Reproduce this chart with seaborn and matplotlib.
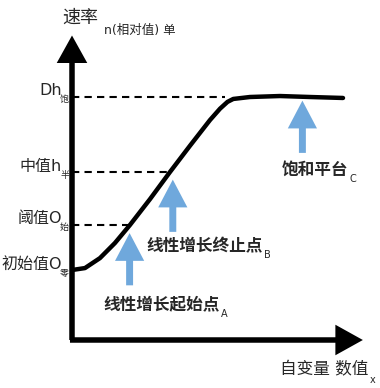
import matplotlib
matplotlib.use("Agg")
import matplotlib.pyplot as plt
import seaborn as sns
import pandas as pd

sns.set_style("white")
plt.rcParams['font.family'] = ['DejaVu Sans', 'Noto Sans CJK SC']

# ---- data ----
curve_x = [0.0, 0.45, 0.97, 1.49, 2.01, 2.71, 3.40, 4.10, 4.79, 5.14, 5.40, 5.60, 6.18, 7.22, 8.26, 9.41]
curve_y = [2.88, 2.96, 3.37, 3.99, 4.73, 5.80, 6.91, 8.00, 9.05, 9.52, 9.80, 9.92, 10.0, 10.04, 10.0, 9.96]

level_values = [10.0, 6.91, 4.73, 2.88]
level_labels = ["Dh", "中值h", "阈值O", "初始值O"]
level_subs = ["饱", "半", "始", "零"]
level_dash_x = [5.30, 3.40, 2.01, None]

arrow_x = [2.0, 3.5, 8.0]
arrow_tip = [4.4, 6.6, 9.85]
arrow_tail = [2.25, 4.45, 7.7]
arrow_labels = ["线性增长起始点", "线性增长终止点", "饱和平台"]
arrow_subs = ["A", "B", "C"]
arrow_label_pos = [(1.1, 1.45), (2.6, 3.85), (7.3, 7.0)]

y_title = "速率"
y_title_small = "n(相对值) 单"
x_title = "自变量 数值"
x_title_sub = "x"

blue = "#6fa8dc"

fig = plt.figure(figsize=(3.8, 3.88), dpi=100)
W, H = 380, 388
ax = fig.add_axes([72 / W, 48 / H, (360 - 72) / W, (340 - 40) / H])
ax.set_xlim(0, 10)
ax.set_ylim(0, 300 / 24.3)
for s in ax.spines.values():
    s.set_visible(False)
ax.set_xticks([])
ax.set_yticks([])
ax.patch.set_alpha(0)

# axes arrows
ax.annotate("", xy=(0, 1.015), xytext=(0, 0), xycoords="axes fraction",
            arrowprops=dict(arrowstyle="simple,head_length=0.9,head_width=1.0,tail_width=0.18",
                            mutation_scale=22, color="black", lw=0, shrinkA=0, shrinkB=0),
            annotation_clip=False)
ax.annotate("", xy=(1.01, 0), xytext=(-0.007, 0), xycoords="axes fraction",
            arrowprops=dict(arrowstyle="simple,head_length=0.9,head_width=1.0,tail_width=0.18",
                            mutation_scale=22, color="black", lw=0, shrinkA=0, shrinkB=0),
            annotation_clip=False)

# curve
df = pd.DataFrame({"x": curve_x, "y": curve_y})
sns.lineplot(data=df, x="x", y="y", ax=ax, color="black", lw=3.2, sort=False)
ax.set_xlabel("")
ax.set_ylabel("")

# dashed levels and labels
for v, lab, sub, dx in zip(level_values, level_labels, level_subs, level_dash_x):
    if dx is not None:
        ax.plot([0, dx], [v, v], ls=(0, (3.5, 2.5)), color="black", lw=1.5)
    ax.text(-0.36, v + 0.25, lab, ha="right", va="center", fontsize=11.5, clip_on=False)
    ax.text(-0.1, v - 0.12, sub, ha="right", va="center", fontsize=6.5, clip_on=False)

# blue arrows and labels
for xa, tip, tail, lab, sub, (lx, ly) in zip(arrow_x, arrow_tip, arrow_tail,
                                              arrow_labels, arrow_subs, arrow_label_pos):
    ax.annotate("", xy=(xa, tip), xytext=(xa, tail),
                arrowprops=dict(arrowstyle="simple,head_length=1.0,head_width=1.05,tail_width=0.25",
                                mutation_scale=20, color=blue, lw=0, shrinkA=0, shrinkB=0))
    t = ax.text(lx, ly, lab, ha="left", va="center", fontsize=12, fontweight="bold")
    fig.canvas.draw()
    bb = t.get_window_extent()
    inv = ax.transData.inverted()
    xr, yb = inv.transform((bb.x1, bb.y0))
    ax.text(xr + 0.02, yb, sub, ha="left", va="center", fontsize=7)

# axis titles
fig.text(62 / W, 1 - 18 / H, y_title, ha="left", va="center", fontsize=13)
fig.text(104 / W, 1 - 30 / H, y_title_small, ha="left", va="center", fontsize=9)
fig.text(368 / W, 1 - 369 / H, x_title, ha="right", va="center", fontsize=12)
fig.text(370 / W, 1 - 380 / H, x_title_sub, ha="left", va="center", fontsize=7)

fig.savefig("out.png", dpi=100)
